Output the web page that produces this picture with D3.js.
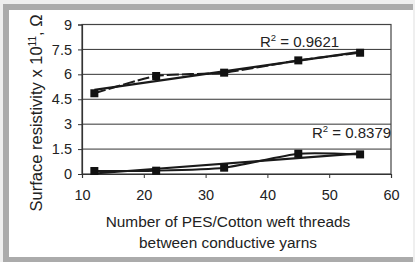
<!DOCTYPE html>
<html>
<head>
<meta charset="utf-8">
<script src="https://cdn.jsdelivr.net/npm/d3@7"></script>
<style>
  body { margin: 0; background: #fff; }
  svg text { font-family: "Liberation Sans", Arial, sans-serif; fill: #222; }
</style>
</head>
<body>
<div id="chart"></div>
<script>
const threads = [12, 22, 33, 45, 55];
const upperValues = [4.86, 5.9, 6.1, 6.84, 7.3];
const lowerValues = [0.18, 0.2, 0.38, 1.22, 1.18];
const xTicks = [10, 20, 30, 40, 50, 60];
const yTicks = [0, 1.5, 3, 4.5, 6, 7.5, 9];
const upperLabel = "0.9621";
const lowerLabel = "0.8379";

const W = 415, H = 262;
const plot = {left: 82, right: 391, top: 24.5, bottom: 174};

const svg = d3.select('#chart').append('svg')
    .attr('width', W)
    .attr('height', H);

// frame
svg.append('rect').attr('width', W).attr('height', H).attr('fill', '#efefef');
svg.append('rect').attr('x', 3).attr('y', 4).attr('width', 410).attr('height', H - 4).attr('fill', '#ababab');
svg.append('rect').attr('x', 9).attr('y', 10).attr('width', 404).attr('height', 247).attr('fill', '#fff');

const x = d3.scaleLinear().domain([10, 60]).range([plot.left, plot.right]);
const y = d3.scaleLinear().domain([0, 9]).range([plot.bottom, plot.top]);

// grid lines
svg.append('g')
    .selectAll('line')
    .data(yTicks.filter(d => d > 0))
    .enter().append('line')
    .attr('x1', plot.left).attr('x2', plot.right)
    .attr('y1', d => y(d)).attr('y2', d => y(d))
    .attr('stroke', '#333').attr('stroke-width', 1);

// plot border
svg.append('rect')
    .attr('x', plot.left).attr('y', plot.top)
    .attr('width', plot.right - plot.left).attr('height', plot.bottom - plot.top)
    .attr('fill', 'none').attr('stroke', '#444').attr('stroke-width', 1.2);

// axes
const xAxis = svg.append('g')
    .attr('transform', `translate(0,${plot.bottom})`)
    .call(d3.axisBottom(x).tickValues(xTicks).tickSize(4).tickPadding(12).tickFormat(d3.format('d')));
const yAxis = svg.append('g')
    .attr('transform', `translate(${plot.left},0)`)
    .call(d3.axisLeft(y).tickValues(yTicks).tickSize(4).tickPadding(6).tickFormat(d => d));
[xAxis, yAxis].forEach(a => {
    a.select('.domain').attr('stroke', '#333').attr('stroke-width', 1.2);
    a.selectAll('.tick line').attr('stroke', '#333');
    a.selectAll('.tick text').style('font-size', '14.5px').attr('fill', '#222');
});

function trend(values)
{
    const mx = d3.mean(threads), my = d3.mean(values);
    const sxy = d3.sum(threads, (t, i) => (t - mx) * (values[i] - my));
    const sxx = d3.sum(threads, t => (t - mx) * (t - mx));
    const k = sxy / sxx;
    return [threads[0], threads[threads.length - 1]].map(t => [t, my + k * (t - mx)]);
}

function drawSeries(values, dashed)
{
    const pts = threads.map((t, i) => [t, values[i]]);
    const line = d3.line().x(d => x(d[0])).y(d => y(d[1]));
    svg.append('path')
        .attr('d', line(trend(values)))
        .attr('fill', 'none').attr('stroke', '#1a1a1a').attr('stroke-width', 2.2);
    svg.append('path')
        .attr('d', line.curve(d3.curveCardinal.tension(0.4))(pts))
        .attr('fill', 'none').attr('stroke', '#1a1a1a').attr('stroke-width', 2)
        .attr('stroke-dasharray', dashed ? '12,3' : null);
    svg.append('g').selectAll('rect')
        .data(pts)
        .enter().append('rect')
        .attr('x', d => x(d[0]) - 4).attr('y', d => y(d[1]) - 4)
        .attr('width', 8).attr('height', 8)
        .attr('fill', '#111');
}

drawSeries(upperValues, true);
drawSeries(lowerValues, false);

function r2Label(xPos, yPos, value)
{
    const t = svg.append('text').attr('x', xPos).attr('y', yPos).style('font-size', '15px');
    t.append('tspan').text('R');
    t.append('tspan').text('2').attr('dy', -6).style('font-size', '9.5px');
    t.append('tspan').text(' = ' + value).attr('dy', 6);
}
r2Label(260, 46.5, upperLabel);
r2Label(312, 137.5, lowerLabel);

// axis titles
svg.append('text').attr('x', 228).attr('y', 227).attr('text-anchor', 'middle')
    .style('font-size', '15.4px').text('Number of PES/Cotton weft threads');
svg.append('text').attr('x', 228).attr('y', 248).attr('text-anchor', 'middle')
    .style('font-size', '15.4px').text('between conductive yarns');

const yt = svg.append('text')
    .attr('transform', 'translate(42,113) rotate(-90)')
    .attr('text-anchor', 'middle')
    .style('font-size', '16.5px');
yt.append('tspan').text('Surface resistivity x 10');
yt.append('tspan').text('11').attr('dy', -6).style('font-size', '10px');
yt.append('tspan').text(', Ω').attr('dy', 6);
</script>
</body>
</html>
